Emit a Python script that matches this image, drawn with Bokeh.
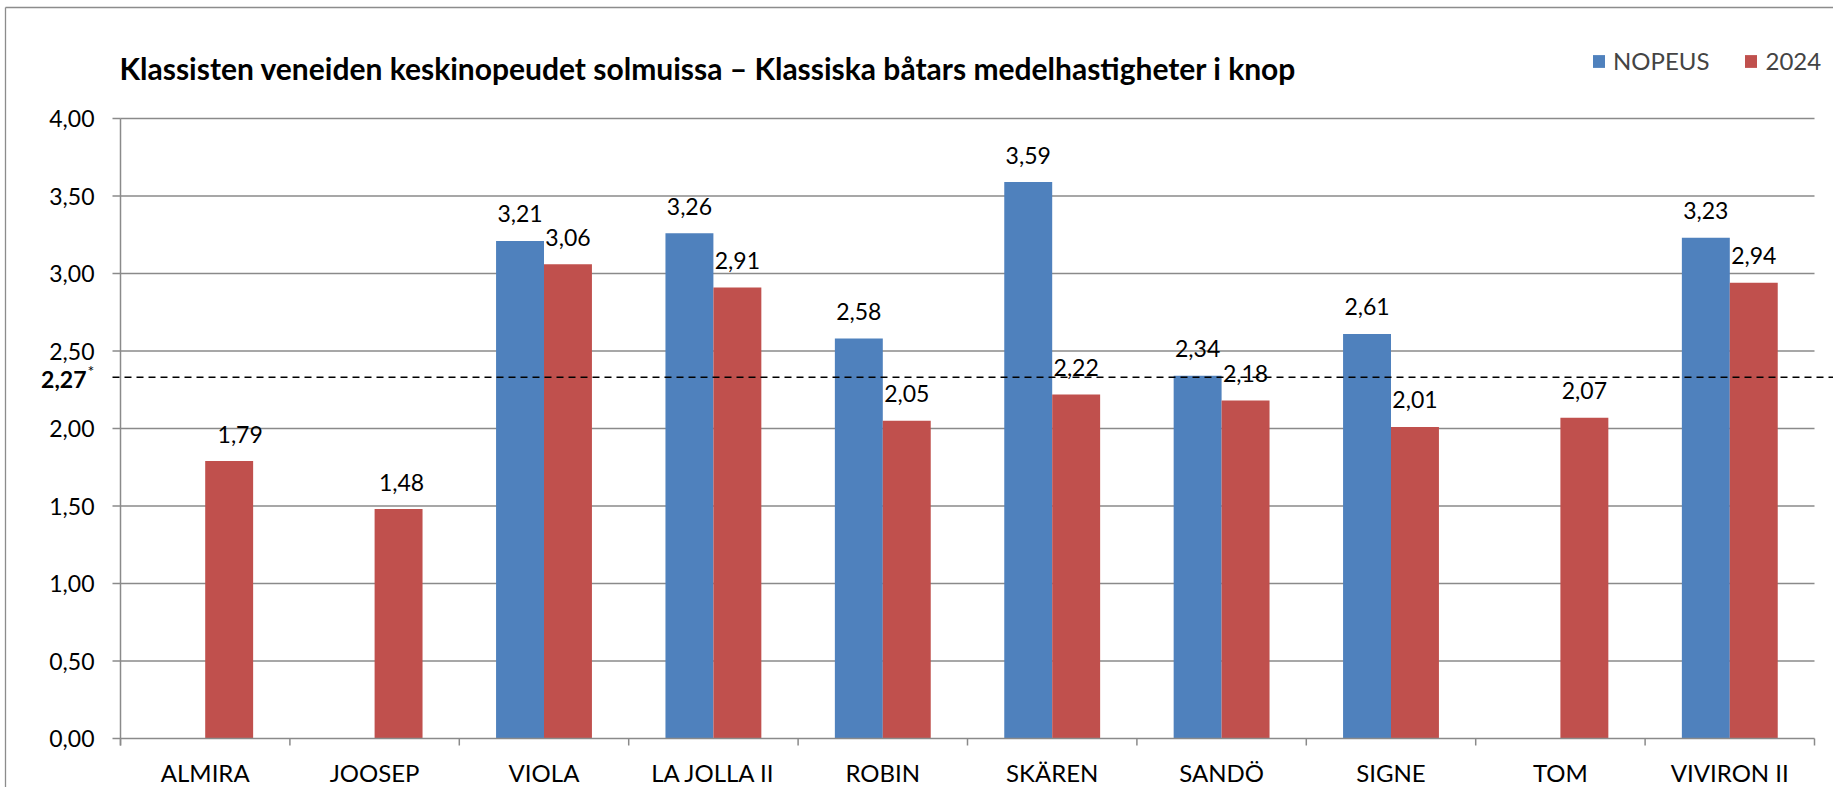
import math
from bokeh.plotting import figure
from bokeh.models import Range1d, ColumnDataSource, Legend, LegendItem
from bokeh.core.properties import value
from bokeh.embed import file_html
from bokeh.resources import INLINE

# ---------------- data ----------------
boats = ["ALMIRA", "JOOSEP", "VIOLA", "LA JOLLA II", "ROBIN", "SKÄREN", "SANDÖ", "SIGNE", "TOM", "VIVIRON II"]
nopeus = [None, None, 3.21, 3.26, 2.58, 3.59, 2.34, 2.61, None, 3.23]
speed_2024 = [1.79, 1.48, 3.06, 2.91, 2.05, 2.22, 2.18, 2.01, 2.07, 2.94]
series_names = ["NOPEUS", "2024"]
y_ticks = [0.0, 0.5, 1.0, 1.5, 2.0, 2.5, 3.0, 3.5, 4.0]
avg_text = "2,27"
avg_line = 2.33
title_text = "Klassisten veneiden keskinopeudet solmuissa – Klassiska båtars medelhastigheter i knop"

# ---------------- style ----------------
BLUE = "#4F81BD"
RED = "#C0504D"
GRID = "#8A8A8A"
FONT = value("Lato")
W, H = 1833, 787
X0_PX = 120           # pixel column of the y axis
Y0_PX = 738           # pixel row of the zero line
PX_X = 169.4          # pixels per category
PX_Y = 155.0          # pixels per unit
BAR_W = 0.283

n = len(boats)

def fmt(v):
    return f"{v:.2f}".replace(".", ",")

x_start, x_end = -X0_PX / PX_X, (W - X0_PX) / PX_X
y_start, y_end = -(H - Y0_PX) / PX_Y, Y0_PX / PX_Y

p = figure(width=W, height=H, output_backend="svg", toolbar_location=None,
           x_range=Range1d(x_start, x_end), y_range=Range1d(y_start, y_end),
           x_axis_location=None, y_axis_location=None,
           min_border_left=0, min_border_right=0, min_border_top=0, min_border_bottom=0,
           outline_line_color=None, background_fill_color="white", border_fill_color="white")
p.xgrid.visible = False
p.ygrid.visible = False

# outer chart border (thin gray frame)
fx = (5 - X0_PX) / PX_X
fy = (Y0_PX - 7) / PX_Y
p.segment(x0=[fx, fx], x1=[fx, x_end], y0=[y_start, fy], y1=[fy, fy], line_color="#8C8C8C", line_width=1.3)

# gridlines
top_tick = y_ticks[-1]
gy = y_ticks[1:]
p.segment(x0=[0] * len(gy), x1=[n] * len(gy), y0=gy, y1=gy, line_color=GRID, line_width=1.5)

# bars
centers = [i + 0.5 for i in range(n)]
blue_x = [c - BAR_W / 2 for c in centers]
red_x = [c + BAR_W / 2 for c in centers]
nop_vals = [v if v is not None else math.nan for v in nopeus]
src_b = ColumnDataSource(dict(x=blue_x, top=nop_vals))
src_r = ColumnDataSource(dict(x=red_x, top=speed_2024))
rb = p.vbar(x="x", top="top", bottom=0, width=BAR_W, source=src_b, fill_color=BLUE, line_color=None)
rr = p.vbar(x="x", top="top", bottom=0, width=BAR_W, source=src_r, fill_color=RED, line_color=None)

# axes: y axis line, y ticks, x axis line, x ticks
tick_y = 7 / PX_Y
tick_x = 8 / PX_X
p.segment(x0=[0], x1=[0], y0=[-tick_y], y1=[top_tick], line_color=GRID, line_width=1.5)
p.segment(x0=[-tick_x] * len(y_ticks), x1=[0] * len(y_ticks), y0=y_ticks, y1=y_ticks,
          line_color=GRID, line_width=1.5)
p.segment(x0=[0], x1=[n], y0=[0], y1=[0], line_color=GRID, line_width=1.5)
xt = list(range(n + 1))
p.segment(x0=xt, x1=xt, y0=[0] * len(xt), y1=[-tick_y] * len(xt), line_color=GRID, line_width=1.5)

# y tick labels
p.text(x=[0] * len(y_ticks), y=y_ticks, text=[fmt(t) for t in y_ticks], x_offset=-26,
       text_align="right", text_baseline="middle", text_font=FONT, text_font_size="23px",
       text_color="black")

# average dashed line
p.segment(x0=[-tick_x], x1=[x_end], y0=[avg_line], y1=[avg_line], line_color="black",
          line_width=1.5, line_dash="7 5")

# average label
p.text(x=[0], y=[avg_line], text=[avg_text], x_offset=-34, y_offset=2, text_align="right",
       text_baseline="middle", text_font=FONT, text_font_style="bold", text_font_size="23px",
       text_color="black")
p.text(x=[0], y=[avg_line], text=["*"], x_offset=-33, y_offset=-7, text_align="left",
       text_baseline="middle", text_font=FONT, text_font_size="16px", text_color="black")

# data labels
bx = [x for x, v in zip(blue_x, nopeus) if v is not None]
bv = [v for v in nopeus if v is not None]
p.text(x=bx, y=bv, text=[fmt(v) for v in bv], text_align="center", text_baseline="middle",
       y_offset=-27, text_font=FONT, text_font_size="23px", text_color="black")
nudge = {"ALMIRA": 11, "JOOSEP": 3}
p.text(x=red_x, y=speed_2024, text=[fmt(v) for v in speed_2024], text_align="center",
       text_baseline="middle", x_offset=[nudge.get(b, 0) for b in boats],
       y_offset=-27, text_font=FONT, text_font_size="23px", text_color="black")

# category labels
p.text(x=centers, y=[0] * n, text=boats, text_align="center", text_baseline="middle",
       y_offset=34, text_font=FONT, text_font_size="24px", text_color="black")

# title
p.text(x=[0], y=[top_tick], text=[title_text], text_align="left", text_baseline="middle",
       x_offset=-1, y_offset=-51, text_font=FONT, text_font_style="bold", text_font_size="30px",
       text_color="black")

# legend
legend = Legend(items=[LegendItem(label=series_names[0], renderers=[rb]),
                       LegendItem(label=series_names[1], renderers=[rr])],
                orientation="horizontal", location=(1591, 712), glyph_width=15, glyph_height=16,
                label_text_font="Lato", label_text_font_size="24px", label_standoff=7,
                spacing=34, padding=0, margin=0, border_line_color=None, background_fill_alpha=0)
p.add_layout(legend)

open("out.html", "w").write(file_html(p, INLINE))
